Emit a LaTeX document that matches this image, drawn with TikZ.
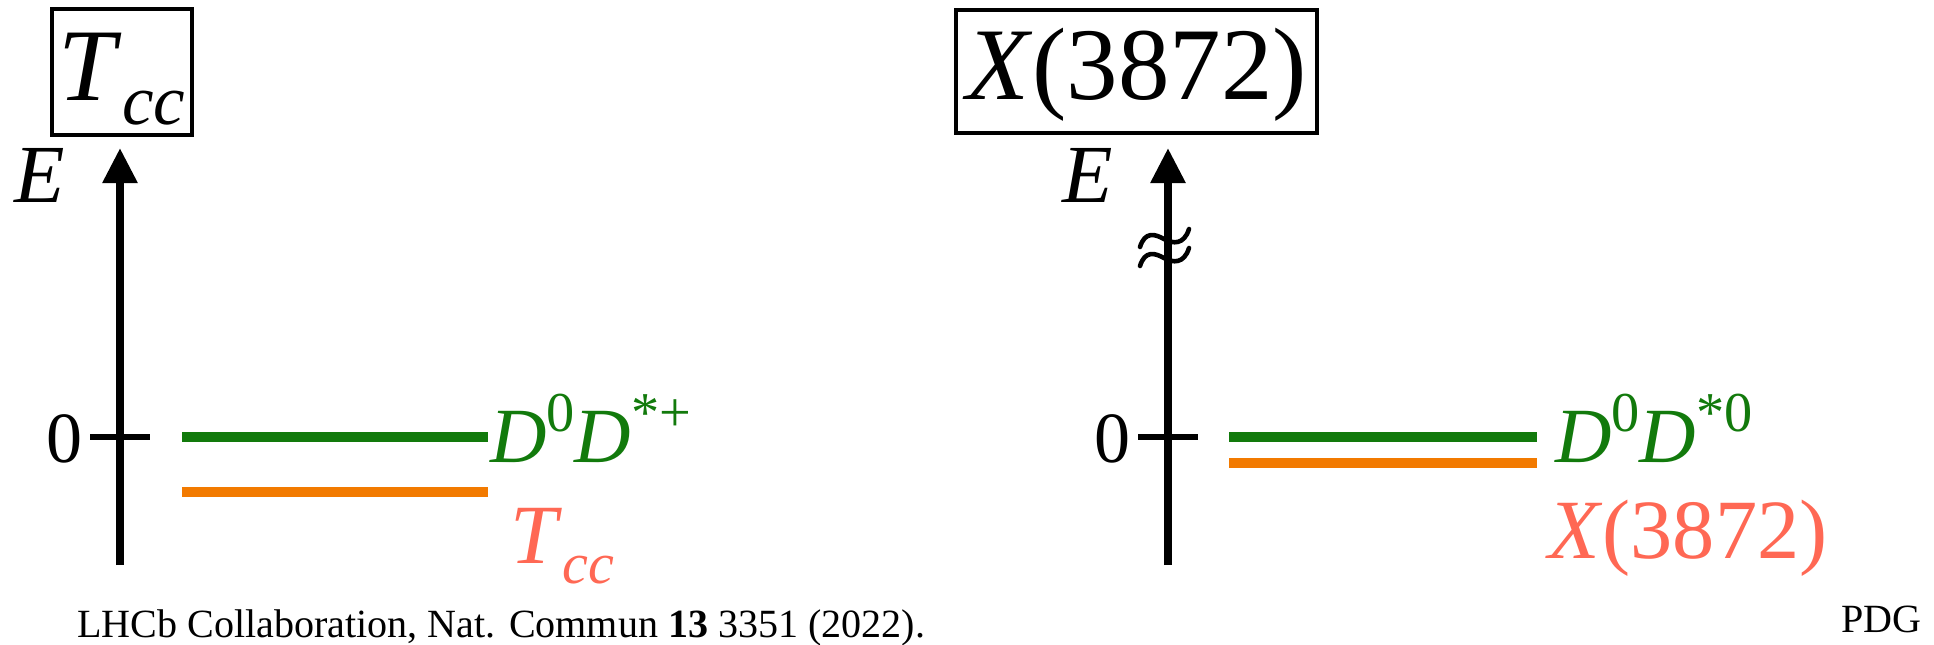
\documentclass[tikz,border=0pt]{standalone}
\usepackage{fontspec}
\setmainfont{Liberation Serif}
\usetikzlibrary{arrows.meta}

\definecolor{levelgreen}{RGB}{18,122,12}
\definecolor{levelorange}{RGB}{242,122,0}
\definecolor{statered}{RGB}{255,104,84}

\newcommand{\lowidx}[1]{\raisebox{-0.24em}{\scalebox{0.69}{\textit{#1}}}}
\newcommand{\upidx}[1]{\raisebox{0.39em}{\scalebox{0.72}{#1}}}

\tikzset{
	titlebox/.style={draw, line width=2.3pt, inner sep=0pt, font=\fontsize{58.6}{60}\selectfont},
	axisline/.style={line width=4.6pt, -{Triangle[width=19pt,length=20pt]}},
	tickline/.style={line width=3.4pt},
	breakline/.style={line width=2.6pt, line cap=round},
	greenlevel/.style={levelgreen, line width=5.7pt},
	orangelevel/.style={levelorange, line width=5.7pt},
	elabel/.style={inner sep=0pt, anchor=base west, font=\fontsize{47}{48}\selectfont\itshape},
	zerolabel/.style={inner sep=0pt, anchor=base, font=\fontsize{41}{42}\selectfont},
	channel/.style={inner sep=0pt, anchor=base west, text=levelgreen, font=\fontsize{44.5}{46}\selectfont},
	statelabel/.style={inner sep=0pt, anchor=base west, text=statered, font=\fontsize{48}{50}\selectfont},
	reflabel/.style={inner sep=0pt, font=\fontsize{22.8}{24}\selectfont}
}

\begin{document}
\begin{tikzpicture}[x=0.02cm, y=-0.02cm, line cap=butt]
	% Canvas
	\useasboundingbox (0,0) rectangle (1934,645);
	
	% Title boxes
	\node[titlebox, text height=51.8pt, text depth=19.9pt, minimum width=79.7pt] (tcctitle) at (122,72) {\textit{T}\lowidx{cc}};
	\node[titlebox, text height=51.2pt, text depth=18.8pt, minimum width=205.4pt] (xtitle) at (1136.5,71.5) {\textit{X}(3872)};
	
	% Energy axes
	\coordinate (axlbot) at (120,565);
	\coordinate (axltop) at (120,148);
	\coordinate (axrbot) at (1168,565);
	\coordinate (axrtop) at (1168,148);
	\draw[axisline] (axlbot) -- (axltop);
	\draw[axisline] (axrbot) -- (axrtop);
	
	% Zero ticks
	\foreach \ax in {120,1168}
	\draw[tickline] (\ax-30,437) -- (\ax+30,437);
	
	% Axis labels
	\node[elabel] (el) at (14,203) {E};
	\node[elabel] (er) at (1062,203) {E};
	\node[zerolabel] (zl) at (65,462) {0};
	\node[zerolabel] (zr) at (1112,462) {0};
	
	% Axis break
	\foreach \yb in {239,258}
	\draw[breakline] (1140,\yb+8) .. controls (1145,\yb-8) and (1155,\yb-5) .. (1164,\yb)
		.. controls (1173,\yb+5) and (1184,\yb+6) .. (1189,\yb-10);
	
	% Threshold and bound state levels
	\coordinate (thla) at (182,437);
	\coordinate (thlb) at (488,437);
	\coordinate (bsla) at (182,492);
	\coordinate (bslb) at (488,492);
	\coordinate (thra) at (1229,437);
	\coordinate (thrb) at (1537,437);
	\coordinate (bsra) at (1229,463);
	\coordinate (bsrb) at (1537,463);
	\draw[greenlevel] (thla) -- (thlb);
	\draw[orangelevel] (bsla) -- (bslb);
	\draw[greenlevel] (thra) -- (thrb);
	\draw[orangelevel] (bsra) -- (bsrb);
	
	% Level labels
	\node[channel] (dl) at (490,462) {\textit{D}\upidx{0}\textit{D}\upidx{*+}};
	\node[channel] (dr) at (1555,462) {\textit{D}\upidx{0}\textit{D}\upidx{*0}};
	\node[statelabel] (tl) at (510,563) {\textit{T}\lowidx{cc}};
	\node[statelabel] (xl) at (1548,558) {\textit{X}(3872)};
	
	% References
	\node[reflabel, anchor=base west] (lhcb) at (77,637) {LHCb Collaboration, Nat. Commun \textbf{13} 3351 (2022).};
	\node[reflabel, anchor=base east] (pdg) at (1922,632) {PDG};
\end{tikzpicture}
\end{document}
